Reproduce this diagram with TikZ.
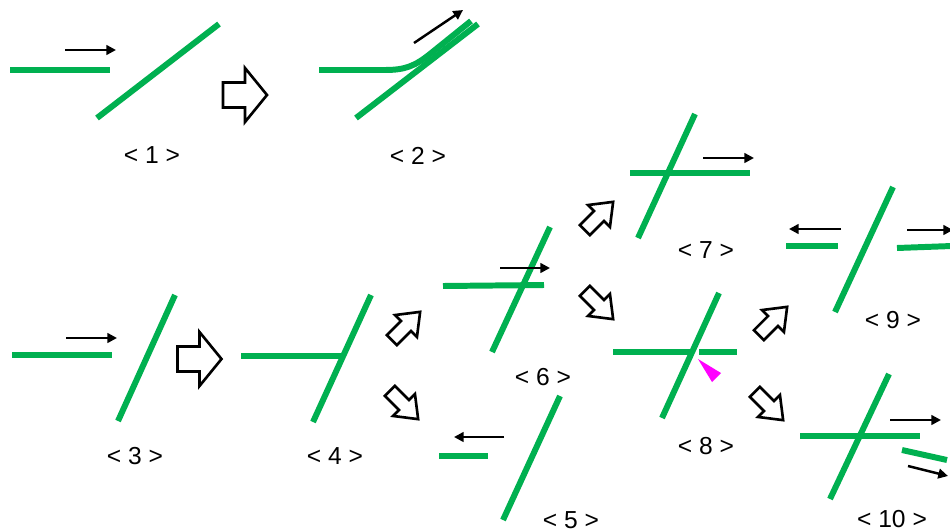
\documentclass[tikz,border=0pt]{standalone}
\usepackage{fontspec}
\setmainfont{Liberation Sans}
\usetikzlibrary{arrows.meta}
\definecolor{strand}{RGB}{0,176,80}
\definecolor{notch}{RGB}{255,0,255}
\begin{document}
\begin{tikzpicture}[x=0.02cm,y=-0.02cm,
  dna/.style={strand, line width=3.4pt},
  motion/.style={black, line width=1.4pt, -{Triangle[length=5.5pt,width=5.5pt]}},
  lbl/.style={font=\fontsize{14}{16}\selectfont, inner sep=0pt},
  outlinearrow/.style={draw=black, line width=1.5pt, line join=miter, fill=white},
  bigarrow/.pic={\path[outlinearrow] (-22,-12.5) -- (0,-12.5) -- (0,-27) -- (22,0) -- (0,27) -- (0,12.5) -- (-22,12.5) -- cycle;},
  smallarrow/.pic={\path[outlinearrow] (-20,-7) -- (0,-7) -- (0,-15.5) -- (20,0) -- (0,15.5) -- (0,7) -- (-20,7) -- cycle;}
]
\clip (0,0) rectangle (950,531);
\fill[white] (0,0) rectangle (950,531);

% ---------- panel 1
\draw[dna] (10,70) -- (110,70);
\draw[dna] (97,118) -- (219,24);
\draw[motion] (65,50) -- (116,50);
\pic at (245,95) {bigarrow};
\node[lbl] (l1) at (152,155) {< 1 >};

% ---------- panel 2
\draw[dna] (356,118) -- (478,24);
\draw[dna] (319,70) -- (385,70) .. controls (405,70) and (415,66) .. (430,54) -- (471,21);
\draw[motion] (414,43) -- (463,10);
\node[lbl] (l2) at (418,156) {< 2 >};

% ---------- panel 3
\draw[dna] (12,355) -- (112,355);
\draw[dna] (118,421) -- (175,295);
\draw[motion] (66,338) -- (117,338);
\pic at (199.5,359) {bigarrow};
\node[lbl] (l3) at (135,456) {< 3 >};

% ---------- panel 4
\draw[dna] (241,356) -- (343,356);
\draw[dna] (313,422) -- (371,295);
\node[lbl] (l4) at (335,456) {< 4 >};
\pic[rotate=45] at (406,326) {smallarrow};
\pic[rotate=-45] at (404,405) {smallarrow};

% ---------- panel 6
\draw[dna] (443,286) -- (544,285);
\draw[dna] (492,352) -- (550,227);
\draw[motion] (500,268) -- (550,268);
\node[lbl] (l6) at (543,377) {< 6 >};
\pic[rotate=45] at (599,216) {smallarrow};
\pic[rotate=-45] at (599,305) {smallarrow};

% ---------- panel 5
\draw[dna] (439,456) -- (488,456);
\draw[dna] (503,520) -- (560,396);
\draw[motion] (504,437) -- (454,437);
\node[lbl] (l5) at (571,520) {< 5 >};

% ---------- panel 7
\draw[dna] (630,173) -- (750,173);
\draw[dna] (638,238) -- (695,114);
\draw[motion] (703,158) -- (754,158);
\node[lbl] (l7) at (706,250) {< 7 >};

% ---------- panel 8
\draw[dna] (613,352) -- (692,352);
\draw[dna] (699,352) -- (737,352);
\draw[dna] (662,418) -- (719,293);
\fill[notch] (698,359) -- (721,373) -- (712,382) -- cycle;
\node[lbl] (l8) at (706,446) {< 8 >};
\pic[rotate=45] at (773,321) {smallarrow};
\pic[rotate=-45] at (769,406) {smallarrow};

% ---------- panel 9
\draw[dna] (786,246) -- (838,246);
\draw[motion] (841,229) -- (789,229);
\draw[dna] (835,312) -- (893,187);
\draw[dna] (897,248) -- (952,246);
\draw[motion] (907,230) -- (953,230);
\node[lbl] (l9) at (893,320) {< 9 >};

% ---------- panel 10
\draw[dna] (800,436) -- (920,436);
\draw[dna] (830,499) -- (889,374);
\draw[motion] (890,420) -- (941,420);
\draw[dna] (902,450) -- (947,460);
\draw[motion] (908,466) -- (948,476);
\node[lbl] (l10) at (892,519) {< 10 >};
\end{tikzpicture}
\end{document}
